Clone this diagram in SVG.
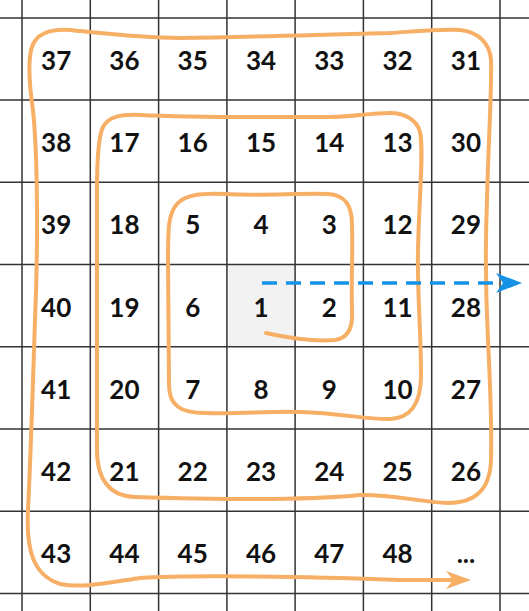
<svg xmlns="http://www.w3.org/2000/svg" width="529" height="611" viewBox="0 0 529 611">
<style>
.g{stroke:#333;stroke-width:1.5;fill:none}
.n{font-family:Lato,"Open Sans","Liberation Sans",sans-serif;font-weight:bold;font-size:26px;fill:#111;text-anchor:middle}
.sp{fill:none;stroke:#F7AF66;stroke-width:4;stroke-linecap:round;stroke-linejoin:round}
.bl{fill:none;stroke:#1592E6;stroke-width:3.5;stroke-dasharray:15 9}
</style>
<rect width="529" height="611" fill="#fff"/>
<rect x="226.9" y="264.5" width="68.2" height="82.2" fill="#f2f2f2"/>
<g id="grid">
<path class="g" d="M22 0V611M90.3 0V611M158.6 0V611M226.9 0V611M295.1 0V611M363.4 0V611M431.7 0V611M500 0V611"/>
<path class="g" d="M0 18H529M0 100H529M0 182.2H529M0 264.5H529M0 346.7H529M0 429H529M0 511.3H529M0 593.5H529"/>
</g>
<g id="cells">
<g id="c37"><text class="n" x="56.2" y="70">37</text></g>
<g id="c36"><text class="n" x="124.4" y="70">36</text></g>
<g id="c35"><text class="n" x="192.7" y="70">35</text></g>
<g id="c34"><text class="n" x="261" y="70">34</text></g>
<g id="c33"><text class="n" x="329.3" y="70">33</text></g>
<g id="c32"><text class="n" x="397.6" y="70">32</text></g>
<g id="c31"><text class="n" x="465.9" y="70">31</text></g>
<g id="c38"><text class="n" x="56.2" y="152">38</text></g>
<g id="c17"><text class="n" x="124.4" y="152">17</text></g>
<g id="c16"><text class="n" x="192.7" y="152">16</text></g>
<g id="c15"><text class="n" x="261" y="152">15</text></g>
<g id="c14"><text class="n" x="329.3" y="152">14</text></g>
<g id="c13"><text class="n" x="397.6" y="152">13</text></g>
<g id="c30"><text class="n" x="465.9" y="152">30</text></g>
<g id="c39"><text class="n" x="56.2" y="234">39</text></g>
<g id="c18"><text class="n" x="124.4" y="234">18</text></g>
<g id="c5"><text class="n" x="192.7" y="234">5</text></g>
<g id="c4"><text class="n" x="261" y="234">4</text></g>
<g id="c3"><text class="n" x="329.3" y="234">3</text></g>
<g id="c12"><text class="n" x="397.6" y="234">12</text></g>
<g id="c29"><text class="n" x="465.9" y="234">29</text></g>
<g id="c40"><text class="n" x="56.2" y="316.5">40</text></g>
<g id="c19"><text class="n" x="124.4" y="316.5">19</text></g>
<g id="c6"><text class="n" x="192.7" y="316.5">6</text></g>
<g id="c1"><text class="n" x="261" y="316.5">1</text></g>
<g id="c2"><text class="n" x="329.3" y="316.5">2</text></g>
<g id="c11"><text class="n" x="397.6" y="316.5">11</text></g>
<g id="c28"><text class="n" x="465.9" y="316.5">28</text></g>
<g id="c41"><text class="n" x="56.2" y="398.5">41</text></g>
<g id="c20"><text class="n" x="124.4" y="398.5">20</text></g>
<g id="c7"><text class="n" x="192.7" y="398.5">7</text></g>
<g id="c8"><text class="n" x="261" y="398.5">8</text></g>
<g id="c9"><text class="n" x="329.3" y="398.5">9</text></g>
<g id="c10"><text class="n" x="397.6" y="398.5">10</text></g>
<g id="c27"><text class="n" x="465.9" y="398.5">27</text></g>
<g id="c42"><text class="n" x="56.2" y="481">42</text></g>
<g id="c21"><text class="n" x="124.4" y="481">21</text></g>
<g id="c22"><text class="n" x="192.7" y="481">22</text></g>
<g id="c23"><text class="n" x="261" y="481">23</text></g>
<g id="c24"><text class="n" x="329.3" y="481">24</text></g>
<g id="c25"><text class="n" x="397.6" y="481">25</text></g>
<g id="c26"><text class="n" x="465.9" y="481">26</text></g>
<g id="c43"><text class="n" x="56.2" y="563">43</text></g>
<g id="c44"><text class="n" x="124.4" y="563">44</text></g>
<g id="c45"><text class="n" x="192.7" y="563">45</text></g>
<g id="c46"><text class="n" x="261" y="563">46</text></g>
<g id="c47"><text class="n" x="329.3" y="563">47</text></g>
<g id="c48"><text class="n" x="397.6" y="563">48</text></g>
<g id="cdots"><text class="n" x="465.9" y="563">...</text></g>
</g>
<g id="connectors">
<path class="sp" d="M266 333 C285 337 310 342 335 340 C350 338 353 325 352 310 C351 280 353 250 352 225 C352 205 345 195 328 194 C300 193 260 196 225 194 C200 193 185 195 177 204 C168 214 168 230 168 260 L169 385 C169 405 180 413 205 413 C240 414 270 411 300 412 C340 413 370 420 390 419 C410 418 421 405 421 375 C421 330 417 290 418 250 C419 200 424 150 420 132 C417 120 405 113 390 113 C370 113 350 117 330 117 C280 117 200 118 140 115 C120 114 108 117 103 127 C98 137 97 160 97 190 L97 450 C97 480 110 496 135 497 C200 499 300 501 360 495 C390 494 420 502 448 503 C475 503 490 490 491 460 C492 420 490 380 488 340 C486 300 485 250 487 200 C488 150 492 90 491 60 C490 45 480 32 460 30 C440 29 420 31 390 33 C320 35 250 37 180 38 C140 38 100 33 70 30 C50 29 35 33 31 50 C28 65 30 90 33 110 C38 160 38 250 35 320 C33 380 31 450 28 510 C26 550 33 575 60 584 C80 588 100 584 140 578 C200 574 350 578 400 580 L462 580"/>
<path d="M471 580 L446 571 L453 580 L446 589 Z" fill="#F7AF66"/>
<path class="bl" d="M262 283 H499"/>
<path d="M522 283 L496 273 L503 283 L496 293 Z" fill="#1592E6"/>
</g>
</svg>
